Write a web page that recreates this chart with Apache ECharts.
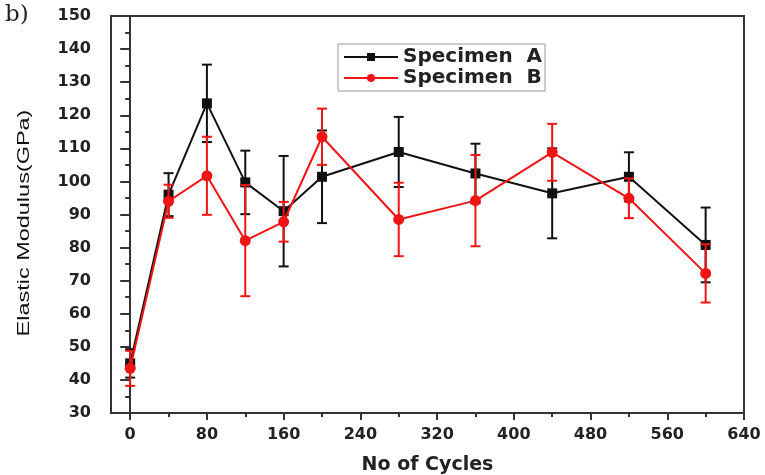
<!DOCTYPE html>
<html>
<head>
<meta charset="utf-8">
<script src="https://cdn.jsdelivr.net/npm/echarts@6/dist/echarts.min.js"></script>
<style>
  html, body { margin: 0; padding: 0; background: #fff; }
  #chart { width: 765px; height: 475px; }
</style>
</head>
<body>
<div id="chart"></div>
<script>
// data
var cycles = [0, 40, 80, 120, 160, 200, 280, 360, 440, 520, 600];
var specA = [45, 96, 123.6, 99.7, 91, 101.4, 108.9, 102.4, 96.4, 101.4, 80.8];
var errA = [4.3, 6.5, 11.7, 9.6, 16.7, 14, 10.6, 9, 13.6, 7.4, 11.3];
var specB = [43.5, 94, 101.7, 82.1, 87.8, 113.5, 88.5, 94.2, 108.8, 94.9, 72.2];
var errB = [5.3, 5, 11.8, 16.8, 6, 8.5, 11.1, 13.8, 8.6, 6, 8.8];
var xMajor = [0, 80, 160, 240, 320, 400, 480, 560, 640];
var xMinor = [40, 120, 200, 280, 360, 440, 520, 600];

var myChart = echarts.init(document.getElementById("chart"));

function pairs(vals) {
  return cycles.map(function(c, i) { return [c, vals[i]]; });
}
function errData(vals, errs) {
  return cycles.map(function(c, i) { return [c, vals[i] - errs[i], vals[i] + errs[i]]; });
}
// 误差棒
function errorBar(color) {
  return function(params, api) {
    var lo = api.coord([api.value(0), api.value(1)]);
    var hi = api.coord([api.value(0), api.value(2)]);
    var w = 5;
    var style = { stroke: color, lineWidth: 2 };
    return {
      type: "group",
      children: [
        { type: "line", shape: { x1: lo[0], y1: lo[1], x2: hi[0], y2: hi[1] }, style: style },
        { type: "line", shape: { x1: lo[0] - w, y1: lo[1], x2: lo[0] + w, y2: lo[1] }, style: style },
        { type: "line", shape: { x1: hi[0] - w, y1: hi[1], x2: hi[0] + w, y2: hi[1] }, style: style }
      ]
    };
  };
}

var axisColor = "#333";
var boldFont = "DejaVu Sans, Verdana, sans-serif";
var labelFont = { color: "#222", fontSize: 16, fontWeight: "bold", fontFamily: boldFont };

var option = {
  animation: false,
  grid: {
    left: 111,
    right: 21,
    top: 16,
    bottom: 62,
    outerBoundsMode: "none",
    show: true,
    borderColor: axisColor,
    borderWidth: 2
  },
  graphic: [
    {
      type: "text",
      left: 5,
      top: 4,
      style: { text: "b)", fontSize: 23, fontFamily: "DejaVu Serif, Liberation Serif, serif", fill: "#222" }
    },
    {
      // y axis title, drawn narrow and tall like the original
      type: "text",
      x: 24,
      y: 223,
      rotation: Math.PI / 2,
      scaleX: 1.38,
      style: {
        text: "Elastic Modulus(GPa)",
        fontSize: 17,
        fontFamily: "Liberation Sans, Arial, sans-serif",
        fill: "#111",
        textAlign: "center",
        textVerticalAlign: "middle"
      }
    }
  ],
  legend: {
    orient: "vertical",
    left: 338,
    top: 44,
    padding: [3, 3, 3, 5],
    itemGap: 1,
    itemWidth: 54,
    itemHeight: 10,
    borderColor: "#999",
    borderWidth: 1,
    backgroundColor: "#fff",
    data: ["Specimen  A", "Specimen  B"],
    textStyle: { color: "#222", fontSize: 20, fontWeight: "bold", fontFamily: boldFont }
  },
  xAxis: [
    {
      type: "value",
      min: -20,
      max: 640,
      name: "No of Cycles",
      nameLocation: "middle",
      nameGap: 43,
      nameTextStyle: { color: "#222", fontSize: 19, fontWeight: "bold", fontFamily: boldFont },
      axisLine: { show: true, lineStyle: { color: axisColor, width: 2 } },
      axisTick: { show: true, length: 7, customValues: xMajor, lineStyle: { color: axisColor, width: 2 } },
      axisLabel: Object.assign({ margin: 14, customValues: xMajor }, labelFont),
      splitLine: { show: false }
    },
    {
      type: "value",
      min: -20,
      max: 640,
      position: "bottom",
      axisLine: { show: false },
      axisTick: { show: true, length: 4, customValues: xMinor, lineStyle: { color: axisColor, width: 2 } },
      axisLabel: { show: false },
      splitLine: { show: false }
    }
  ],
  yAxis: {
    type: "value",
    min: 30,
    max: 150,
    interval: 10,
    axisLine: { show: true, lineStyle: { color: axisColor, width: 2 } },
    axisTick: { show: true, length: 10, lineStyle: { color: axisColor, width: 2 } },
    minorTick: { show: true, splitNumber: 2, length: 5, lineStyle: { color: axisColor, width: 2 } },
    axisLabel: Object.assign({ margin: 20 }, labelFont),
    splitLine: { show: false }
  },
  series: [
    {
      name: "errA",
      type: "custom",
      renderItem: errorBar("#111"),
      encode: { x: 0, y: [1, 2] },
      data: errData(specA, errA),
      z: 2
    },
    {
      name: "Specimen  A",
      type: "line",
      data: pairs(specA),
      symbol: "rect",
      symbolSize: 10,
      itemStyle: { color: "#111" },
      lineStyle: { color: "#111", width: 2 },
      z: 3
    },
    {
      name: "errB",
      type: "custom",
      renderItem: errorBar("#f01414"),
      encode: { x: 0, y: [1, 2] },
      data: errData(specB, errB),
      z: 4
    },
    {
      name: "Specimen  B",
      type: "line",
      data: pairs(specB),
      symbol: "circle",
      symbolSize: 11,
      itemStyle: { color: "#f01414" },
      lineStyle: { color: "#f01414", width: 2 },
      z: 5
    }
  ]
};
myChart.setOption(option);
</script>
</body>
</html>
